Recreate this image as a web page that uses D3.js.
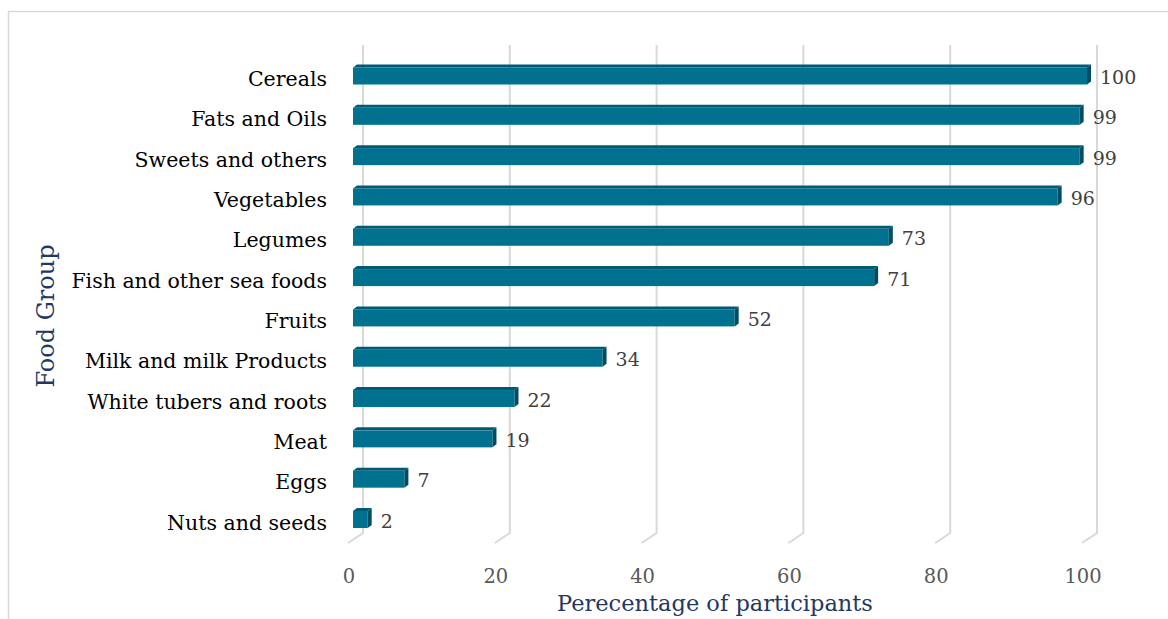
<!DOCTYPE html>
<html><head><meta charset="utf-8">
<script src="https://cdn.jsdelivr.net/npm/d3@7"></script>
<style>body{margin:0;background:#fff}svg{display:block}</style>
</head><body>
<script>
const categories = ["Cereals","Fats and Oils","Sweets and others","Vegetables","Legumes","Fish and other sea foods","Fruits","Milk and milk Products","White tubers and roots","Meat","Eggs","Nuts and seeds"];
const values = [100,99,99,96,73,71,52,34,22,19,7,2];
const ticks = [0,20,40,60,80,100];
const xTitle = "Perecentage of participants";
const yTitle = "Food Group";

const W=1168,H=619;
const svg=d3.select("body").append("svg").attr("width",W).attr("height",H);
const font="'DejaVu Serif', serif";

// frame
svg.append("path").attr("d","M8.5,619 V11.5 H1168").attr("fill","none").attr("stroke","#d9d9d9").attr("stroke-width",1.5);

const xBack=d3.scaleLinear().domain([0,100]).range([363,1097]);
const y=d3.scalePoint().domain(categories).range([76,519.5]);
const frontDx=-15, frontDy=10, gTop=45, gBot=533;

// gridlines
const g=svg.append("g");
ticks.forEach(t=>{
  const xb=xBack(t);
  g.append("path").attr("d",`M${xb},${gTop} V${gBot} L${xb+frontDx},${gBot+frontDy}`)
   .attr("fill","none").attr("stroke","#d9d9d9").attr("stroke-width",2);
  g.append("text").attr("x",xb-14).attr("y",576).attr("text-anchor","middle")
   .attr("dominant-baseline","central").attr("font-family",font).attr("font-size",19.5)
   .attr("fill","#595959").text(t);
});

// bars
const bh=17, dx=4, dy=3, barShift=-10;
const xb=v=>xBack(v)+barShift;
const bars=svg.append("g");
categories.forEach((c,i)=>{
  const v=values[i];
  const x0=xb(0), x1=xb(v), yt=y(c)-bh/2;
  bars.append("path").attr("d",`M${x0},${yt} L${x0+dx},${yt-dy} L${x1+dx},${yt-dy} L${x1},${yt} Z`).attr("fill","#005a73");
  bars.append("rect").attr("x",x0).attr("y",yt).attr("width",x1-x0).attr("height",bh).attr("fill","#00718f");
  bars.append("path").attr("d",`M${x1},${yt} L${x1+dx},${yt-dy} L${x1+dx},${yt-dy+bh} L${x1},${yt+bh} Z`).attr("fill","#004d63");
  bars.append("text").attr("x",x1+dx+9).attr("y",y(c)+1).attr("dominant-baseline","central")
   .attr("font-family",font).attr("font-size",19).attr("fill","#404040").text(v);
  svg.append("text").attr("x",327).attr("y",y(c)+3).attr("text-anchor","end").attr("dominant-baseline","central")
   .attr("font-family",font).attr("font-size",20.5).attr("fill","#000").text(c);
});

svg.append("text").attr("x",715).attr("y",603).attr("text-anchor","middle").attr("dominant-baseline","central")
 .attr("font-family",font).attr("font-size",22.5).attr("fill","#1f3864").text(xTitle);
svg.append("text").attr("transform","translate(46,316) rotate(-90)").attr("text-anchor","middle").attr("dominant-baseline","central")
 .attr("font-family",font).attr("font-size",24).attr("fill","#1f3864").text(yTitle);
</script>
</body></html>
